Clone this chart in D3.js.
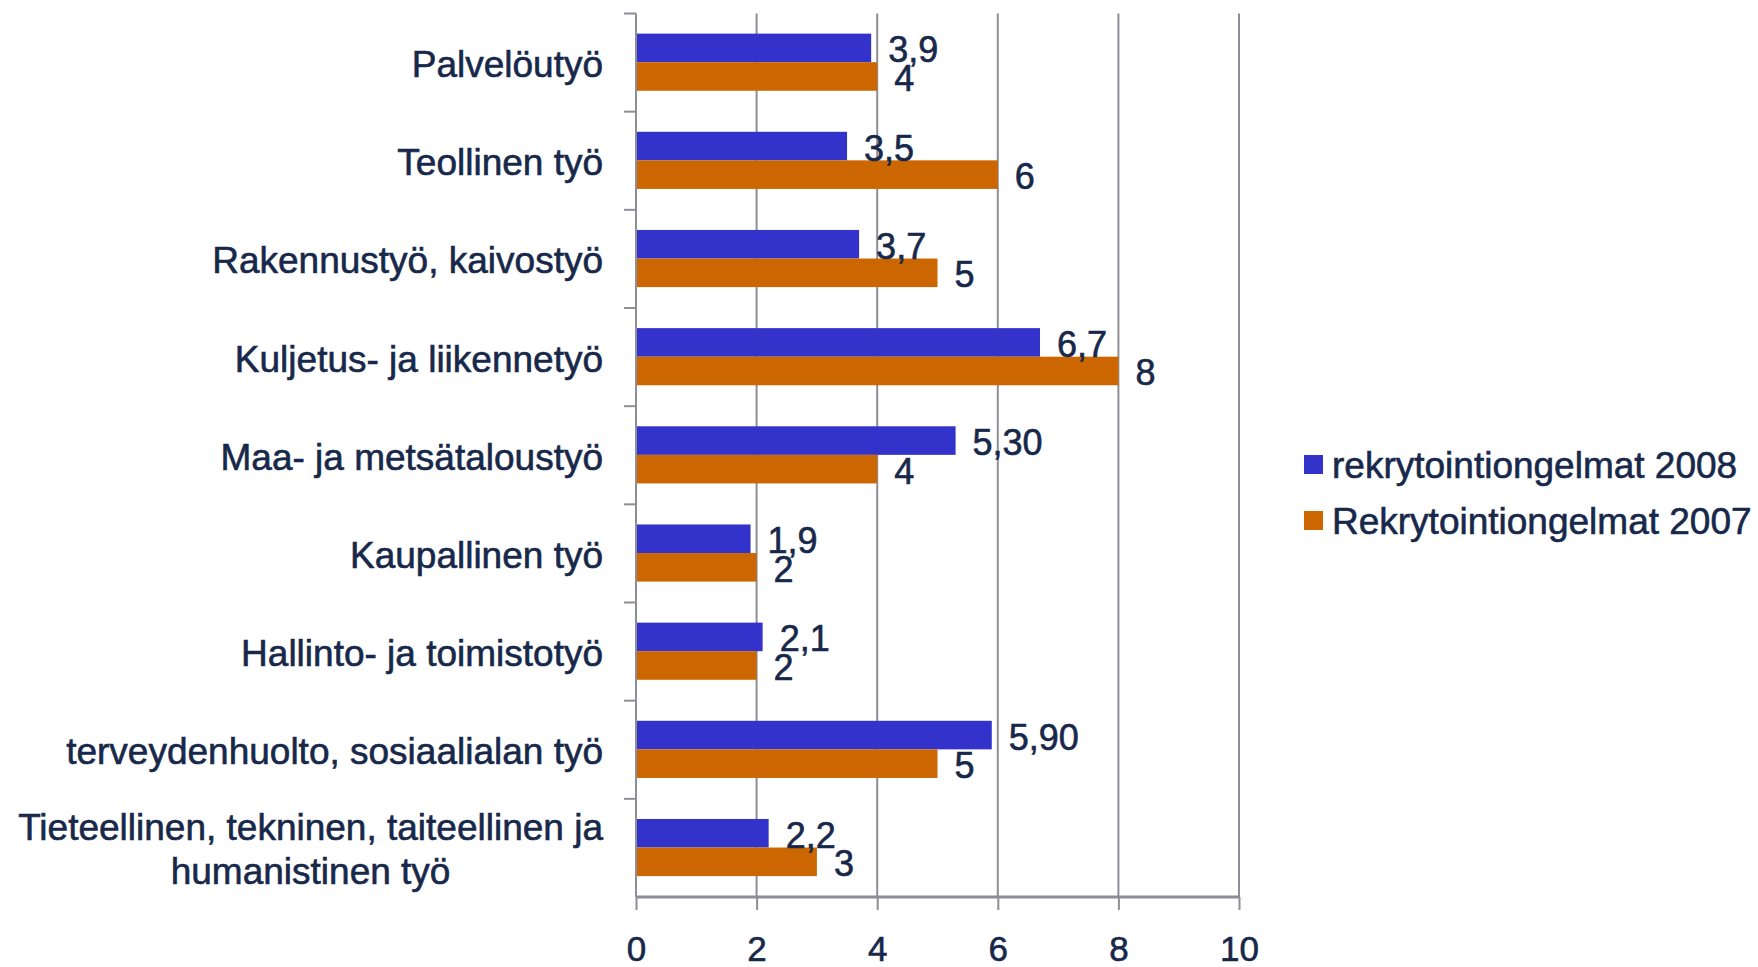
<!DOCTYPE html>
<html>
<head>
<meta charset="utf-8">
<script src="https://cdn.jsdelivr.net/npm/d3@7"></script>
<style>
  body { margin: 0; background: #fff; }
  text { font-family: "Liberation Sans", Arial, sans-serif; fill: #17284a; stroke: #17284a; stroke-width: 0.6px; }
</style>
</head>
<body>
<svg id="chart"></svg>
<script>
// Data
const categories = [
  "Palvelöutyö",
  "Teollinen työ",
  "Rakennustyö, kaivostyö",
  "Kuljetus- ja liikennetyö",
  "Maa- ja metsätaloustyö",
  "Kaupallinen työ",
  "Hallinto- ja toimistotyö",
  "terveydenhuolto, sosiaalialan työ",
  "Tieteellinen, tekninen, taiteellinen ja|humanistinen työ"
];
const seriesNames = ["rekrytointiongelmat 2008", "Rekrytointiongelmat 2007"];
const values2008 = [3.9, 3.5, 3.7, 6.7, 5.3, 1.9, 2.1, 5.9, 2.2];
const labels2008 = ["3,9", "3,5", "3,7", "6,7", "5,30", "1,9", "2,1", "5,90", "2,2"];
const values2007 = [4, 6, 5, 8, 4, 2, 2, 5, 3];
const xTicks = [0, 2, 4, 6, 8, 10];

const colors = ["#3333cc", "#cc6600"];
const gridColor = "#8e8e96";

const W = 1758, H = 967;
const margin = { top: 13.5, left: 636, right: 519, bottom: 70 };
const innerW = W - margin.left - margin.right;
const innerH = H - margin.top - margin.bottom;

const svg = d3.select("#chart").attr("width", W).attr("height", H);
const g = svg.append("g")
  .attr("transform", "translate(" + margin.left + "," + margin.top + ")");

// Scales
const x = d3.scaleLinear().domain([0, 10]).range([0, innerW]);
const y0 = d3.scaleBand().domain(categories).range([0, innerH]).padding(0);
const y1 = d3.scaleBand()
  .domain([0, 1])
  .range([y0.bandwidth() * 0.205, y0.bandwidth() * 0.787]);

// Gridlines
g.selectAll(".grid")
  .data(xTicks.filter((d) => d > 0))
  .enter()
  .append("line")
  .attr("x1", (d) => x(d))
  .attr("x2", (d) => x(d))
  .attr("y1", 0)
  .attr("y2", innerH)
  .attr("stroke", gridColor)
  .attr("stroke-width", 2);

// Bars
const rows = categories.map((c, i) => ({
  cat: c,
  vals: [
    { s: 0, v: values2008[i], label: labels2008[i] },
    { s: 1, v: values2007[i], label: String(values2007[i]) }
  ]
}));

const group = g.selectAll(".cat")
  .data(rows)
  .enter()
  .append("g")
  .attr("transform", (d) => "translate(0," + y0(d.cat) + ")");

group.selectAll("rect")
  .data((d) => d.vals)
  .enter()
  .append("rect")
  .attr("x", 0)
  .attr("y", (d) => y1(d.s))
  .attr("width", (d) => x(d.v))
  .attr("height", y1.bandwidth())
  .attr("fill", (d) => colors[d.s]);

group.selectAll(".lbl")
  .data((d) => d.vals)
  .enter()
  .append("text")
  .attr("class", "lbl")
  .attr("x", (d) => x(d.v) + 17)
  .attr("y", (d) => y1(d.s) + y1.bandwidth() / 2 + 2)
  .attr("dominant-baseline", "central")
  .style("font-size", "36px")
  .text((d) => d.label);

// Left axis line with ticks at band edges
g.append("line")
  .attr("x1", 0).attr("x2", 0)
  .attr("y1", 0).attr("y2", innerH)
  .attr("stroke", gridColor)
  .attr("stroke-width", 2);

g.selectAll(".ytick")
  .data(categories)
  .enter()
  .append("line")
  .attr("x1", -12).attr("x2", 0)
  .attr("y1", (d) => y0(d))
  .attr("y2", (d) => y0(d))
  .attr("stroke", gridColor)
  .attr("stroke-width", 2);

// Category labels
g.selectAll(".catlbl")
  .data(categories)
  .enter()
  .append("text")
  .attr("class", "catlbl")
  .style("font-size", "37px")
  .each(function (d) {
    const lines = d.split("|");
    const t = d3.select(this);
    const cy = y0(d) + y0.bandwidth() / 2 + 2;
    if (lines.length === 1) {
      t.attr("x", -33).attr("y", cy)
        .attr("text-anchor", "end")
        .attr("dominant-baseline", "central")
        .text(d);
    } else {
      // wrapped label: centred block, right edge at the label column
      t.attr("text-anchor", "middle");
      const spans = lines.map((l, i) =>
        t.append("tspan")
          .attr("y", cy + (i - (lines.length - 1) / 2) * 44)
          .attr("dominant-baseline", "central")
          .text(l)
      );
      const maxW = d3.max(spans, (s) => s.node().getComputedTextLength());
      spans.forEach((s) => s.attr("x", -33 - maxW / 2));
    }
  });

// Bottom axis
const xAxis = g.append("g")
  .attr("transform", "translate(0," + innerH + ")")
  .call(d3.axisBottom(x).tickValues(xTicks).tickSize(13).tickPadding(26));

xAxis.select(".domain")
  .attr("stroke", gridColor)
  .attr("stroke-width", 3)
  .attr("d", "M0,0H" + innerW);
xAxis.selectAll(".tick line").attr("stroke", gridColor).attr("stroke-width", 2);
xAxis.selectAll(".tick text")
  .style("font-size", "35px")
  .style("font-family", "'Liberation Sans', Arial, sans-serif")
  .attr("fill", "#17284a");

// Legend
const legend = svg.append("g").attr("transform", "translate(1304,455)");
const li = legend.selectAll(".leg")
  .data(seriesNames)
  .enter()
  .append("g")
  .attr("transform", (d, i) => "translate(0," + i * 56 + ")");

li.append("rect")
  .attr("width", 19)
  .attr("height", 19)
  .attr("fill", (d, i) => colors[i]);

li.append("text")
  .attr("x", 28)
  .attr("y", 10)
  .attr("dominant-baseline", "central")
  .style("font-size", "37px")
  .text((d) => d);
</script>
</body>
</html>
